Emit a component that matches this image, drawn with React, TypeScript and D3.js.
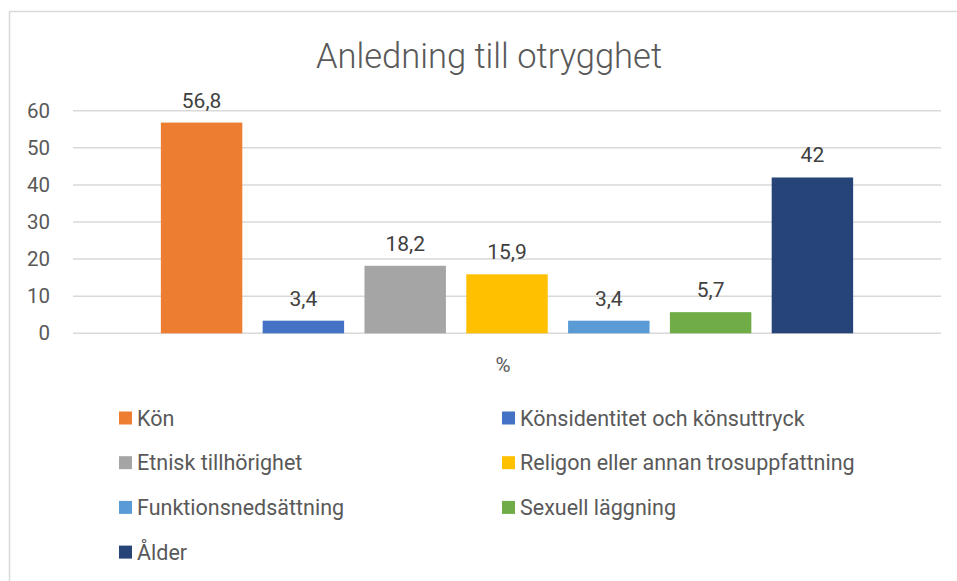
import React from "react";
import * as d3 from "d3";

const title = "Anledning till otrygghet";
const category = "%";
const seriesNames = [
  "Kön",
  "Könsidentitet och könsuttryck",
  "Etnisk tillhörighet",
  "Religon eller annan trosuppfattning",
  "Funktionsnedsättning",
  "Sexuell läggning",
  "Ålder",
];
const seriesValues = [56.8, 3.4, 18.2, 15.9, 3.4, 5.7, 42];
const seriesColors = ["#ED7D31", "#4472C4", "#A5A5A5", "#FFC000", "#5B9BD5", "#70AD47", "#264478"];
const yTicks = [0, 10, 20, 30, 40, 50, 60];

const W = 957;
const H = 581;
const FONT = "Roboto, 'Noto Sans', sans-serif";
const TEXT = "#595959";

export default function App() {
  const plot = { left: 73, right: 941, top: 110.7, bottom: 333.3 };

  const y = d3.scaleLinear().domain([0, 60]).range([plot.bottom, plot.top]);
  const x0 = d3.scaleBand().domain([category]).range([plot.left, plot.right]);
  const x1 = d3
    .scaleBand()
    .domain(seriesNames)
    .range([0, x0.bandwidth()])
    .paddingInner(0.2)
    .paddingOuter(0.863);

  const fmt = (v: number) => String(v).replace(".", ",");

  // legend: two columns, rows filled left to right
  const legendCols = [119, 502];
  const legendRow0 = 418;
  const legendRowStep = 44.7;

  return (
    <svg
      width={W}
      height={H}
      style={{ position: "absolute", left: 0, top: 0, background: "#fff" }}
      fontFamily={FONT}
    >
      <rect x={9.5} y={11.5} width={W} height={H} fill="#fff" stroke="#d9d9d9" strokeWidth={1.5} />

      <text x={489} y={68} textAnchor="middle" fontSize={34.5} fontWeight={300} fill={TEXT}>
        {title}
      </text>

      {yTicks.map((t) => (
        <g key={t}>
          <line x1={plot.left} x2={plot.right} y1={y(t)} y2={y(t)} stroke="#d9d9d9" strokeWidth={1.5} />
          <text x={50} y={y(t)} dy="0.35em" textAnchor="end" fontSize={20.5} fill={TEXT}>
            {t}
          </text>
        </g>
      ))}

      {seriesNames.map((name, i) => {
        const bx = (x0(category) ?? 0) + (x1(name) ?? 0);
        const v = seriesValues[i];
        return (
          <g key={name}>
            <rect x={bx} y={y(v)} width={x1.bandwidth()} height={y(0) - y(v)} fill={seriesColors[i]} />
            <text
              x={bx + x1.bandwidth() / 2}
              y={y(v) - 15}
              textAnchor="middle"
              fontSize={21}
              fill="#404040"
            >
              {fmt(v)}
            </text>
          </g>
        );
      })}

      <text x={(x0(category) ?? 0) + x0.bandwidth() / 2 - 4} y={372} textAnchor="middle" fontSize={20.5} fill={TEXT}>
        {category}
      </text>

      {seriesNames.map((name, i) => {
        const lx = legendCols[i % 2];
        const ly = legendRow0 + Math.floor(i / 2) * legendRowStep;
        return (
          <g key={"lg" + name}>
            <rect x={lx} y={ly - 6.5} width={13} height={13} fill={seriesColors[i]} />
            <text x={lx + 18} y={ly} dy="0.35em" fontSize={21.5} fill={TEXT}>
              {name}
            </text>
          </g>
        );
      })}
    </svg>
  );
}
